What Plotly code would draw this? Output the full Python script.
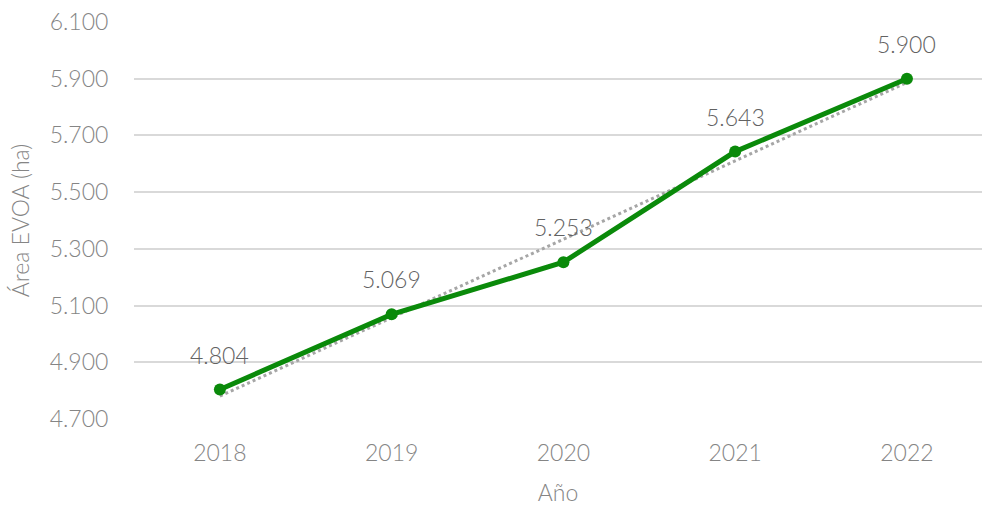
import plotly.graph_objects as go

years = ["2018", "2019", "2020", "2021", "2022"]
area = [4804, 5069, 5253, 5643, 5900]
trend = [4781, 5057, 5334, 5610, 5887]
y_ticks = [4700, 4900, 5100, 5300, 5500, 5700, 5900, 6100]

FONT = "Lato"
FS = 23
xi = list(range(len(years)))

fig = go.Figure()
fig.add_trace(go.Scatter(
    x=xi, y=trend, mode="lines",
    line=dict(color="#a6a6a6", width=3, dash="dot"),
    hoverinfo="skip", showlegend=False, cliponaxis=False))
fig.add_trace(go.Scatter(
    x=xi, y=area, mode="lines+markers",
    line=dict(color="#0a8a0a", width=5),
    marker=dict(color="#0a8a0a", size=12),
    showlegend=False, cliponaxis=False))

for x, v in zip(xi, area):
    fig.add_annotation(x=x, y=v, text=f"{v:,}".replace(",", "."),
                       showarrow=False, yshift=35,
                       font=dict(family=FONT, size=FS, color="#626262", weight=300))

tf = dict(family=FONT, size=FS, color="#858585", weight=300)
fig.update_layout(
    width=982, height=506,
    margin=dict(l=134, r=0, t=22, b=87),
    paper_bgcolor="white", plot_bgcolor="white",
    separators=",.",
    font=tf,
    xaxis=dict(
        tickmode="array", tickvals=xi, ticktext=years,
        range=[-0.5, 4.437], showgrid=False, zeroline=False,
        showline=False, ticks="outside", ticklen=13, tickcolor="rgba(0,0,0,0)",
        tickfont=tf, automargin=False,
        title=dict(text="Año", standoff=24, font=tf),
    ),
    yaxis=dict(
        range=[4700, 6100], tickvals=y_ticks, tickformat=",d",
        showgrid=True, gridcolor="#d9d9d9", gridwidth=1.5,
        zeroline=False, showline=False,
        ticks="outside", ticklen=20, tickcolor="rgba(0,0,0,0)",
        tickfont=tf, automargin=False,
        title=dict(text="Área EVOA (ha)", standoff=13, font=tf),
    ),
)

fig.write_html("out.html", config={"displayModeBar": False})
with open("out.html", encoding="utf-8") as f:
    html = f.read()
html = html.replace("<body>", '<body style="margin:0;padding:0;overflow:hidden">', 1)
with open("out.html", "w", encoding="utf-8") as f:
    f.write(html)
